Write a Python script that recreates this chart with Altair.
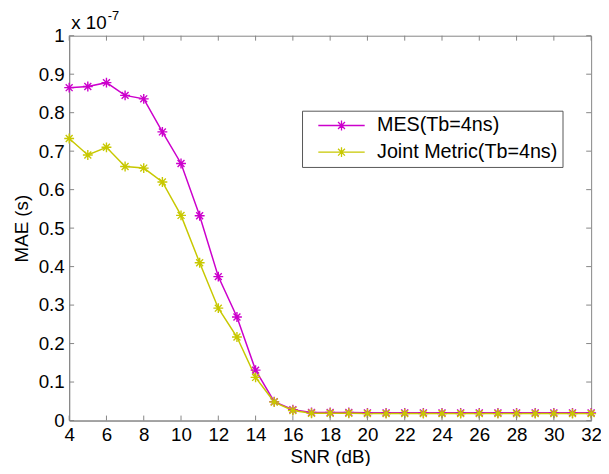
import altair as alt
import pandas as pd

# ---- data ----
snr = [4, 5, 6, 7, 8, 9, 10, 11, 12, 13, 14, 15, 16, 17, 18, 19, 20, 21, 22, 23, 24, 25, 26, 27, 28, 29, 30, 31, 32]
mes = [0.865, 0.868, 0.878, 0.845, 0.836, 0.750, 0.668, 0.532, 0.374, 0.269, 0.131, 0.049, 0.028,
       0.021, 0.021, 0.021, 0.020, 0.020, 0.020, 0.020, 0.020, 0.020, 0.020, 0.020, 0.020, 0.020, 0.020, 0.020, 0.020]
joint = [0.733, 0.690, 0.710, 0.660, 0.656, 0.620, 0.533, 0.410, 0.292, 0.217, 0.112, 0.048, 0.026,
         0.019, 0.019, 0.019, 0.018, 0.018, 0.018, 0.018, 0.018, 0.018, 0.018, 0.018, 0.018, 0.018, 0.018, 0.018, 0.018]
series_names = ["MES(Tb=4ns)", "Joint Metric(Tb=4ns)"]
series_colors = ["#cc00cc", "#c8c800"]
x_ticks = [4, 6, 8, 10, 12, 14, 16, 18, 20, 22, 24, 26, 28, 30, 32]
y_ticks = [0, 0.1, 0.2, 0.3, 0.4, 0.5, 0.6, 0.7, 0.8, 0.9, 1.0]
x_title = "SNR (dB)"
y_title = "MAE (s)"
exp_base = ["x 10"]
exp_power = ["-7"]

W, H = 529, 390
GREY = "#858585"
FONT = "Liberation Sans"
FS = 19
STAR = "M0,-1L0,1M-1,0L1,0M-0.7,-0.7L0.7,0.7M-0.7,0.7L0.7,-0.7"
LEG_SYMBOL = "M-4.7,0L4.7,0" + STAR

rows = []
for name, vals in zip(series_names, [mes, joint]):
    for s, v in zip(snr, vals):
        rows.append({"snr": s, "mae": v, "series": name})
df = pd.DataFrame(rows)

xscale = alt.Scale(domain=[4, 32], nice=False, zero=False)
yscale = alt.Scale(domain=[0, 1], nice=False)

axis_common = dict(
    grid=False, domainColor=GREY, ticks=False,
    labelFont=FONT, labelFontSize=FS, labelColor="black",
    titleFont=FONT, titleFontSize=FS, titleColor="black", titleFontWeight="normal",
    labelPadding=5, labelOverlap=False, labelFlush=False,
)
x_axis = alt.Axis(values=x_ticks, title=x_title, format="d", titlePadding=4, **axis_common)
y_axis = alt.Axis(values=y_ticks, title=y_title, format=".1~f", titlePadding=7, **axis_common)

lines = alt.Chart(df).mark_line(
    strokeWidth=1.5,
    point=alt.OverlayMarkDef(shape=STAR, filled=False, size=100, strokeWidth=1.4),
).encode(
    x=alt.X("snr:Q", scale=xscale, axis=x_axis),
    y=alt.Y("mae:Q", scale=yscale, axis=y_axis),
    color=alt.Color("series:N", sort=series_names,
                    scale=alt.Scale(domain=series_names, range=series_colors),
                    legend=alt.Legend(
                        title=None, orient="none", legendX=236, legendY=76,
                        direction="vertical",
                        strokeColor="#555555", fillColor="white", padding=5,
                        symbolType=LEG_SYMBOL, symbolSize=100, symbolStrokeWidth=1.3,
                        symbolOffset=25, labelOffset=26, rowPadding=7,
                        labelFont=FONT, labelFontSize=20, labelColor="black",
                        labelLimit=400)),
)

xt = pd.DataFrame({"snr": x_ticks})
yt = pd.DataFrame({"mae": y_ticks})
tick_b = alt.Chart(xt).mark_rule(color=GREY).encode(
    x=alt.X("snr:Q", scale=xscale, axis=x_axis), y=alt.value(H), y2=alt.value(H - 5))
tick_t = alt.Chart(xt).mark_rule(color=GREY).encode(
    x=alt.X("snr:Q", scale=xscale, axis=x_axis), y=alt.value(0), y2=alt.value(5))
tick_l = alt.Chart(yt).mark_rule(color=GREY).encode(
    y=alt.Y("mae:Q", scale=yscale, axis=y_axis), x=alt.value(0), x2=alt.value(5))
tick_r = alt.Chart(yt).mark_rule(color=GREY).encode(
    y=alt.Y("mae:Q", scale=yscale, axis=y_axis), x=alt.value(W), x2=alt.value(W - 5))

exp1 = alt.Chart(pd.DataFrame({"t": exp_base})).mark_text(
    align="left", baseline="alphabetic", font=FONT, fontSize=FS, color="black"
).encode(text="t:N", x=alt.value(2), y=alt.value(-7))
exp2 = alt.Chart(pd.DataFrame({"t": exp_power})).mark_text(
    align="left", baseline="alphabetic", font=FONT, fontSize=13, color="black"
).encode(text="t:N", x=alt.value(39), y=alt.value(-16))

chart = alt.layer(lines, tick_b, tick_t, tick_l, tick_r, exp1, exp2).properties(
    width=W, height=H,
    autosize=alt.AutoSizeParams(type="none"),
    padding={"left": 62, "top": 25, "right": 10, "bottom": 43},
).configure_view(
    stroke=GREY, strokeWidth=1
)

chart.save("out.html", embed_options={"renderer": "svg", "actions": False})
